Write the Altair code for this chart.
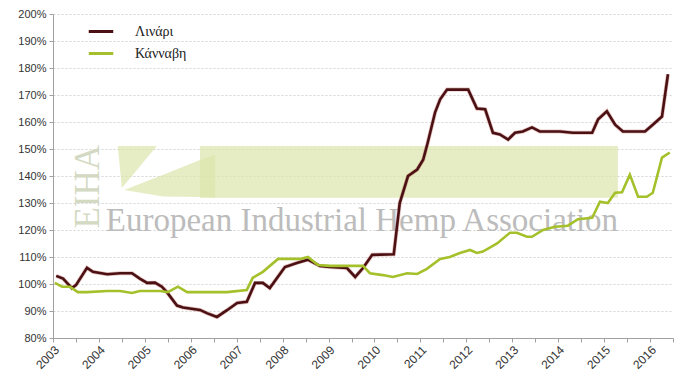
import altair as alt
import pandas as pd

# ---- data ----
series_names = ["Λινάρι", "Κάνναβη"]
series_colors = ["#4a1013", "#a4c02a"]

flax_year = [2003.07, 2003.22, 2003.41, 2003.50, 2003.74, 2003.87, 2004.18, 2004.46, 2004.72, 2004.89,
             2005.05, 2005.22, 2005.37, 2005.48, 2005.70, 2005.83, 2006.20, 2006.35, 2006.57, 2006.79,
             2007.01, 2007.22, 2007.40, 2007.57, 2007.72, 2008.05, 2008.31, 2008.55, 2008.81, 2009.03,
             2009.40, 2009.58, 2009.75, 2009.95, 2010.42, 2010.55, 2010.73, 2010.93, 2011.06, 2011.16,
             2011.32, 2011.43, 2011.58, 2012.04, 2012.23, 2012.41, 2012.58, 2012.73, 2012.91, 2013.06,
             2013.23, 2013.43, 2013.60, 2014.04, 2014.32, 2014.74, 2014.87, 2015.06, 2015.24, 2015.41,
             2015.89, 2016.06, 2016.26, 2016.39]
flax_value = [103, 102, 98.5, 99.6, 106, 104.5, 103.6, 104, 104, 102,
              100.4, 100.5, 99, 97, 92, 91.3, 90.4, 89.2, 87.8, 90.3,
              93, 93.4, 100.4, 100.4, 98.5, 106.3, 107.8, 109, 106.7, 106.3,
              105.9, 102.6, 105.9, 110.8, 111, 130, 140, 142.4, 146, 152.4,
              163.6, 168.4, 172, 172, 165, 164.7, 156, 155.4, 153.5, 156,
              156.5, 158, 156.5, 156.5, 156, 156, 161, 164, 159, 156.5,
              156.5, 159, 162, 177.7]

hemp_year = [2003.04, 2003.20, 2003.37, 2003.54, 2003.74, 2004.18, 2004.46, 2004.72, 2004.89, 2005.33,
             2005.50, 2005.72, 2005.92, 2006.35, 2006.79, 2007.22, 2007.35, 2007.57, 2007.90, 2008.38,
             2008.55, 2008.77, 2009.03, 2009.75, 2009.90, 2010.18, 2010.40, 2010.71, 2010.93, 2011.14,
             2011.43, 2011.64, 2011.86, 2012.08, 2012.23, 2012.36, 2012.67, 2012.95, 2013.10, 2013.32,
             2013.43, 2013.67, 2013.93, 2014.21, 2014.43, 2014.74, 2014.91, 2015.08, 2015.24, 2015.39,
             2015.56, 2015.74, 2015.93, 2016.06, 2016.26, 2016.43]
hemp_value = [100.4, 99, 99, 97, 97, 97.4, 97.4, 96.7, 97.4, 97.4,
              97, 99, 97, 97, 97, 97.8, 102.3, 104.5, 109.3, 109.3,
              110, 107, 106.7, 106.7, 104, 103.3, 102.6, 104, 103.7, 105.6,
              109.3, 110, 111.5, 112.6, 111.5, 112, 115, 119, 119, 117.5,
              117.5, 120, 121.2, 121.6, 124, 124.5, 130.5, 130, 133.8, 134,
              140.5, 132.3, 132.3, 133.8, 146.8, 148.7]

y_ticks = list(range(80, 201, 10))
x_ticks = [2003 + 0.5 * i for i in range(28)]

# watermark (EIHA logo) pieces, in data units
wm_band_x = [2006.2, 2015.3]
wm_band_y = [131.9, 151.1]
wm_wedge_id = ["a", "a", "a", "b", "b", "b", "b"]
wm_wedge_x = [2004.41, 2004.50, 2005.26, 2004.55, 2005.4, 2006.20, 2006.53]
wm_wedge_top = [151.1, 151.1, 151.1, 134.8, 140.5, 145.9, 147.8]
wm_wedge_bot = [151.1, 135.6, 151.1, 134.8, 132.4, 132.2, 131.9]
wm_text = "European Industrial Hemp Association"
wm_text_pos = [2004.15, 119.6]
wm_logo = "EIHA"
wm_logo_pos = [2003.77, 136.0]

# ---- tables ----
lines = pd.concat([
    pd.DataFrame({"year": flax_year, "value": flax_value, "series": series_names[0]}),
    pd.DataFrame({"year": hemp_year, "value": hemp_value, "series": series_names[1]}),
])
band = pd.DataFrame({"x": [wm_band_x[0]], "x2": [wm_band_x[1]], "y": [wm_band_y[0]], "y2": [wm_band_y[1]]})
wedges = pd.DataFrame({"id": wm_wedge_id, "x": wm_wedge_x, "top": wm_wedge_top, "bot": wm_wedge_bot})
texts = pd.DataFrame({"x": [wm_text_pos[0]], "y": [wm_text_pos[1]], "t": [wm_text]})
logo = pd.DataFrame({"x": [wm_logo_pos[0]], "y": [wm_logo_pos[1]], "t": [wm_logo]})

xs = alt.Scale(domain=[2003, 2016.5], nice=False, zero=False)
ys = alt.Scale(domain=[80, 200], nice=False, zero=False)

x_axis = alt.Axis(values=x_ticks, labelExpr="datum.value % 1 === 0 ? '' + datum.value : ''",
                  labelAngle=-45, labelAlign="right", labelBaseline="top", labelOverlap=False,
                  labelFont="Liberation Sans", labelFontSize=12, labelColor="#333",
                  domainColor="#a0a0a0", tickColor="#a0a0a0", tickSize=4, labelPadding=2,
                  grid=False, title=None, labelBound=False, labelFlush=False)
y_axis = alt.Axis(values=y_ticks, labelExpr="datum.value + '%'", labelOverlap=False,
                  labelFont="Liberation Sans", labelFontSize=11, labelColor="#333",
                  domainColor="#a0a0a0", tickColor="#a0a0a0", tickSize=4, labelPadding=3,
                  grid=True, gridColor="#d4d4d4", gridDash=[2, 2], title=None,
                  labelBound=False, labelFlush=False)

base_band = alt.Chart(band).mark_rect(color="#dbe6ab", opacity=0.7).encode(
    x=alt.X("x:Q", scale=xs, axis=x_axis), x2="x2:Q",
    y=alt.Y("y:Q", scale=ys, axis=y_axis), y2="y2:Q")

wedge_layer = alt.Chart(wedges).mark_area(color="#dbe6ab", opacity=0.7).encode(
    x=alt.X("x:Q", scale=xs, axis=x_axis), y=alt.Y("top:Q", scale=ys, axis=y_axis),
    y2="bot:Q", detail="id:N")

text_layer = alt.Chart(texts).mark_text(align="left", baseline="alphabetic", font="Liberation Serif",
                                        fontSize=33, color="#bcbcbc").encode(
    x=alt.X("x:Q", scale=xs, axis=x_axis), y=alt.Y("y:Q", scale=ys, axis=y_axis), text="t:N")

logo_layer = alt.Chart(logo).mark_text(align="center", baseline="middle", font="Liberation Serif",
                                       fontSize=35, angle=270, color="#d3d9c2").encode(
    x=alt.X("x:Q", scale=xs, axis=x_axis), y=alt.Y("y:Q", scale=ys, axis=y_axis), text="t:N")

halo = alt.Chart(lines).transform_filter(alt.datum.series == series_names[0]).mark_line(
    color="#b04a40", strokeWidth=4, opacity=0.35).encode(
    x=alt.X("year:Q", scale=xs, axis=x_axis), y=alt.Y("value:Q", scale=ys, axis=y_axis),
    detail="series:N")

line_layer = alt.Chart(lines).mark_line(strokeWidth=2.6).encode(
    x=alt.X("year:Q", scale=xs, axis=x_axis),
    y=alt.Y("value:Q", scale=ys, axis=y_axis),
    color=alt.Color("series:N", sort=series_names,
                    scale=alt.Scale(domain=series_names, range=series_colors),
                    legend=alt.Legend(orient="none", legendX=34, legendY=10, title=None,
                                      symbolType="stroke", symbolStrokeWidth=3, symbolSize=600,
                                      clipHeight=15, rowPadding=7,
                                      labelFont="Liberation Serif", labelFontSize=14,
                                      labelColor="#222", labelOffset=20)),
    order="year:Q")

chart = alt.layer(base_band, wedge_layer, text_layer, logo_layer, halo, line_layer).properties(
    width=620, height=324,
    autosize=alt.AutoSizeParams(type="none"),
    padding={"left": 53, "top": 14, "right": 12, "bottom": 39},
    background="white",
).configure_view(stroke=None)

chart.save("out.html", embed_options={"renderer": "svg", "actions": False})
